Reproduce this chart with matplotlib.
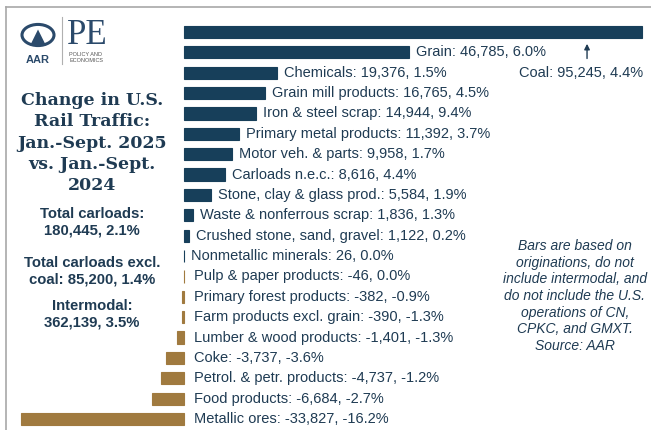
import matplotlib.pyplot as plt
from matplotlib.patches import Circle
from matplotlib.lines import Line2D

W, H = 651, 430

commodities = [
    "Coal", "Grain", "Chemicals", "Grain mill products", "Iron & steel scrap",
    "Primary metal products", "Motor veh. & parts", "Carloads n.e.c.",
    "Stone, clay & glass prod.", "Waste & nonferrous scrap",
    "Crushed stone, sand, gravel", "Nonmetallic minerals", "Pulp & paper products",
    "Primary forest products", "Farm products excl. grain", "Lumber & wood products",
    "Coke", "Petrol. & petr. products", "Food products", "Metallic ores",
]
carload_change = [
    95245, 46785, 19376, 16765, 14944, 11392, 9958, 8616, 5584, 1836,
    1122, 26, -46, -382, -390, -1401, -3737, -4737, -6684, -33827,
]
pct_change = [
    "4.4%", "6.0%", "1.5%", "4.5%", "9.4%", "3.7%", "1.7%", "4.4%", "1.9%", "1.3%",
    "0.2%", "0.0%", "0.0%", "-0.9%", "-1.3%", "-1.3%", "-3.6%", "-1.2%", "-2.7%", "-16.2%",
]

summary = [
    ("Total carloads:", "180,445, 2.1%"),
    ("Total carloads excl.", "coal: 85,200, 1.4%"),
    ("Intermodal:", "362,139, 3.5%"),
]
note = ("Bars are based on\noriginations, do not\ninclude intermodal, and\n"
        "do not include the U.S.\noperations of CN,\nCPKC, and GMXT.\nSource: AAR")

NAVY = "#173f5a"
GOLD = "#a07a3f"
TEXT = "#1f3b53"

plt.rcParams["font.family"] = ["Liberation Sans", "DejaVu Sans"]

fig = plt.figure(figsize=(W / 100, H / 100), dpi=100)


def fx(px):
    return px / W


def fy(py):
    return 1 - py / H


# frame lines
fig.add_artist(Line2D([fx(6), 1], [fy(7), fy(7)], color="#a8a8a8", lw=1.2))
fig.add_artist(Line2D([fx(6), fx(6)], [fy(7), 0], color="#a8a8a8", lw=1.2))

# bar axes: zero at px 184, coal end at px 642
ax_l, ax_r, ax_t, ax_b = 6, 651, 10, 430
ax = fig.add_axes([fx(ax_l), fy(ax_b), fx(ax_r - ax_l), (ax_b - ax_t) / H])
scale = (642 - 184) / carload_change[0]
ax.set_xlim((ax_l - 184) / scale, (ax_r - 184) / scale)
step = (419 - 32) / (len(commodities) - 1)
ax.set_ylim((ax_b - 32) / step, (ax_t - 32) / step)
ax.axis("off")

ypos = list(range(len(commodities)))
colors = [NAVY if v >= 0 else GOLD for v in carload_change]
ax.barh(ypos, carload_change, height=0.6, color=colors, edgecolor=colors, linewidth=0.8)

for i, (name, v, p) in enumerate(zip(commodities, carload_change, pct_change)):
    if i == 0:
        continue
    ax.annotate(f"{name}: {v:,}, {p}", (max(v, 0), i), xytext=(5 if v > 0 else 7, 0),
                textcoords="offset points", va="center", ha="left",
                fontsize=10.5, color=TEXT)

# coal label placed below its bar with an arrow
arrow_x = carload_change[0] * 0.88
ax.annotate("", xy=(arrow_x, 0.58), xytext=(arrow_x, 1.3),
            arrowprops=dict(arrowstyle="-|>", color=TEXT, lw=1.0, mutation_scale=8,
                            shrinkA=0, shrinkB=0))
ax.text(carload_change[0] * 0.867, 2.0,
        f"{commodities[0]}: {carload_change[0]:,}, {pct_change[0]}",
        ha="center", va="center", fontsize=10.5, color=TEXT)

# title
fig.text(fx(92), fy(143), "Change in U.S.\nRail Traffic:\nJan.-Sept. 2025\nvs. Jan.-Sept.\n2024",
         ha="center", va="center", fontsize=12.5, fontweight="bold",
         family="DejaVu Serif", color=TEXT, linespacing=1.32)

for (l1, l2), yc in zip(summary, [222, 271, 314]):
    fig.text(fx(92), fy(yc), f"{l1}\n{l2}", ha="center", va="center",
             fontsize=10.7, fontweight="bold", color=TEXT, linespacing=1.2)

fig.text(fx(575), fy(296), note, ha="center", va="center", fontsize=10,
         style="italic", color=TEXT, linespacing=1.24)

# logo (approximation)
fig.add_artist(Circle((fx(38), fy(35)), 16 / W, transform=fig.transFigure,
                      fill=False, ec="#2b4a6b", lw=2.2))
fig.text(fx(38), fy(37), "▲", ha="center", va="center", fontsize=15, color="#2b4a6b",
         family="DejaVu Sans")
fig.text(fx(38), fy(60), "AAR", ha="center", va="center", fontsize=8,
         fontweight="bold", color="#2b4a6b")
fig.add_artist(Line2D([fx(62), fx(62)], [fy(17), fy(64)], color="#b0b0b0", lw=0.8))
fig.text(fx(67), fy(36), "PE", ha="left", va="center", fontsize=25,
         family="Liberation Serif", color="#2b4a6b")
fig.text(fx(69), fy(54), "POLICY AND", ha="left", va="center", fontsize=4, color="#555555")
fig.text(fx(69), fy(60), "ECONOMICS", ha="left", va="center", fontsize=4, color="#555555")

fig.savefig("out.png", dpi=100)
